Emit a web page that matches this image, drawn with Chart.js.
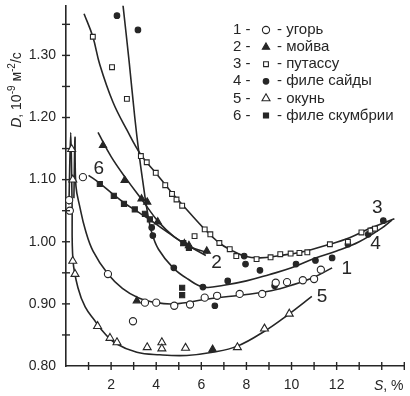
<!DOCTYPE html>
<html><head><meta charset="utf-8">
<script src="https://cdn.jsdelivr.net/npm/chart.js@4/dist/chart.umd.min.js"></script>
<style>html,body{margin:0;padding:0;background:#fff}canvas{display:block}</style>
</head><body>
<canvas id="c" width="410" height="396"></canvas>
<script>
// ---- data (S, %  ;  D, 10^-9 m^2/s) ----
const seriesNames = ['угорь', 'мойва', 'путассу', 'филе сайды', 'окунь', 'филе скумбрии'];
const seriesNumbers = ['1', '2', '3', '4', '5', '6'];

// measured points
const pts1 = [[0.14,1.067],[0.17,1.05],[0.75,1.104],[1.86,0.948],[2.97,0.872],[3.5,0.902],[4.0,0.902],[4.8,0.897],[5.5,0.899],[6.15,0.91],[6.7,0.913],[7.7,0.916],[8.7,0.916],[9.3,0.934],[9.8,0.935],[10.5,0.938],[11.0,0.94],[11.3,0.955]];
const pts2 = [[1.64,1.155],[2.6,1.099],[3.35,1.069],[3.6,1.064],[4.07,1.032],[5.25,0.997],[5.45,0.994],[6.24,0.985],[3.14,0.905],[6.5,0.827]];
const pts3 = [[1.19,1.330],[2.04,1.281],[2.7,1.23],[3.32,1.138],[3.58,1.128],[3.98,1.111],[4.4,1.091],[4.7,1.077],[4.9,1.068],[5.15,1.058],[5.7,1.009],[6.15,1.02],[6.4,1.012],[6.8,0.998],[7.26,0.988],[7.55,0.977],[8.45,0.972],[9.07,0.975],[9.5,0.98],[9.96,0.981],[10.35,0.982],[10.7,0.983],[11.7,0.996],[12.5,1.0],[13.1,1.015],[13.5,1.018],[13.7,1.021]];
const pts4 = [[2.26,1.364],[3.19,1.341],[3.8,1.023],[3.85,1.01],[4.78,0.958],[6.07,0.927],[6.6,0.897],[7.17,0.937],[7.9,0.977],[7.96,0.964],[8.6,0.954],[9.25,0.929],[10.2,0.964],[11.06,0.970],[11.8,0.974],[12.5,0.996],[13.4,1.012],[14.07,1.034]];
const pts5 = [[0.25,1.149],[0.3,1.10],[0.3,0.969],[0.4,0.948],[1.4,0.864],[1.95,0.845],[2.26,0.838],[3.6,0.830],[4.25,0.838],[4.25,0.828],[5.3,0.829],[7.6,0.830],[8.8,0.860],[9.9,0.884]];
const pts6 = [[1.5,1.093],[2.12,1.074],[2.57,1.061],[3.05,1.052],[3.5,1.045],[3.72,1.036],[5.2,0.998],[5.45,0.99],[5.15,0.926],[5.15,0.914]];

// fitted curves
const curve1 = [[0.35,1.07],[0.40,1.168],[0.44,1.09],[0.62,1.055],[0.85,1.02],[1.2,0.985],[1.86,0.948],[2.5,0.925],[3.2,0.91],[4.0,0.902],[4.8,0.900],[6.15,0.907],[7.0,0.911],[8.0,0.915],[9.1,0.921],[10.0,0.930],[11.0,0.943],[11.8,0.958]];
const curve2 = [[1.42,1.176],[2.0,1.137],[2.7,1.10],[3.4,1.066],[4.1,1.032],[4.8,1.008],[5.5,0.992],[6.3,0.982]];
const curve3 = [[0.8,1.367],[1.19,1.33],[1.5,1.285],[2.08,1.225],[2.7,1.18],[3.32,1.14],[4.0,1.11],[4.6,1.083],[5.2,1.058],[6.15,1.02],[6.8,0.998],[7.3,0.987],[7.9,0.977],[8.6,0.974],[9.5,0.978],[10.4,0.983],[11.7,0.996],[12.6,1.007],[13.5,1.022],[14.56,1.037]];
const curve4 = [[2.52,1.383],[2.8,1.29],[3.05,1.2],[3.23,1.144],[3.41,1.096],[3.6,1.05],[3.8,1.015],[4.1,0.988],[4.75,0.958],[5.4,0.940],[6.1,0.927],[7.0,0.930],[8.0,0.937],[9.0,0.947],[10.0,0.958],[11.0,0.973],[12.0,0.985],[13.0,1.0],[14.0,1.022],[14.45,1.035]];
const curve5 = [[0.13,1.06],[0.21,1.176],[0.27,1.06],[0.31,0.97],[0.53,0.926],[0.85,0.895],[1.28,0.873],[1.7,0.853],[2.17,0.837],[3.14,0.822],[4.16,0.818],[5.35,0.817],[6.5,0.822],[7.6,0.832],[8.8,0.856],[9.9,0.884],[10.9,0.912]];
const curve6 = [[1.0,1.107],[1.5,1.094],[2.1,1.076],[2.6,1.062],[3.1,1.05],[3.7,1.036],[4.4,1.018],[5.0,1.003],[5.6,0.99],[6.2,0.978]];

// curve number labels (data coords)
const curveLabelPos = [[12.45,0.956],[6.68,0.966],[13.8,1.054],[13.72,0.997],[11.35,0.911],[1.45,1.118]];

// axis
const xTickLabels = [2, 4, 6, 8, 10, 12];
const yTickLabels = [0.80, 0.90, 1.00, 1.10, 1.20, 1.30];

// ---- styling ----
const INK = '#262626';
const FONT = '"Liberation Sans", Arial, sans-serif';
const markerStyles = [
  {pointStyle:'circle', radius:3.6, fill:'#fff'},
  {pointStyle:'triangle', radius:4.2, fill:INK},
  {pointStyle:'rect', radius:3.4, fill:'#fff'},
  {pointStyle:'circle', radius:2.8, fill:INK},
  {pointStyle:'triangle', radius:4.6, fill:'#fff'},
  {pointStyle:'rect', radius:3.6, fill:INK}
];
const toXY = a => a.map(p => ({x:p[0], y:p[1]}));
const curves = [curve1, curve2, curve3, curve4, curve5, curve6];
const points = [pts1, pts2, pts3, pts4, pts5, pts6];

const datasets = [];
curves.forEach((c, i) => datasets.push({
  label: 'curve ' + seriesNumbers[i], data: toXY(c), showLine: true, pointRadius: 0,
  borderColor: INK, borderWidth: 1.6, tension: 0.4, fill: false, order: 2
}));
points.forEach((p, i) => datasets.push({
  label: seriesNames[i], data: toXY(p), showLine: false,
  pointStyle: markerStyles[i].pointStyle, pointRadius: markerStyles[i].radius,
  pointBackgroundColor: markerStyles[i].fill, pointBorderColor: INK, pointBorderWidth: 1.1, order: 1
}));

const decor = {
  id: 'decor',
  afterDraw(chart) {
    const ctx = chart.ctx, xs = chart.scales.x, ys = chart.scales.y;
    ctx.save();
    ctx.strokeStyle = INK; ctx.lineWidth = 1.4;
    // crossing tick marks
    for (let v = 1; v <= 15; v++) {
      const px = xs.getPixelForValue(v);
      ctx.beginPath(); ctx.moveTo(px, ys.bottom - 4); ctx.lineTo(px, ys.bottom + 4); ctx.stroke();
    }
    for (let k = 1; k <= 11; k++) {
      const v = 0.80 + k * 0.05;
      const py = ys.getPixelForValue(v);
      ctx.beginPath(); ctx.moveTo(xs.left - 4, py); ctx.lineTo(xs.left + 4, py); ctx.stroke();
    }
    ctx.fillStyle = INK;
    // x title
    ctx.textBaseline = 'middle'; ctx.textAlign = 'left';
    ctx.font = 'italic 14px ' + FONT; ctx.fillText('S', 374, 386);
    let w = ctx.measureText('S').width;
    ctx.font = '14px ' + FONT; ctx.fillText(', %', 374 + w, 386);
    // y title (rotated)
    const parts = [['D','italic 14px',0],[', 10','14px',0],['-9','10px',-5],[' м','14px',0],['-2','10px',-5],['/с','14px',0]];
    let total = 0;
    parts.forEach(p => { ctx.font = p[1] + ' ' + FONT; total += ctx.measureText(p[0]).width; });
    ctx.translate(17, 90); ctx.rotate(-Math.PI / 2);
    let cx = -total / 2;
    parts.forEach(p => { ctx.font = p[1] + ' ' + FONT; ctx.fillText(p[0], cx, p[2]); cx += ctx.measureText(p[0]).width; });
    ctx.setTransform(1, 0, 0, 1, 0, 0);
    // legend
    const lx = 233, ly0 = 30, dy = 17.1;
    ctx.font = '15px ' + FONT; ctx.textBaseline = 'middle';
    seriesNames.forEach((name, i) => {
      const y = ly0 + i * dy;
      ctx.fillStyle = INK;
      ctx.fillText(seriesNumbers[i] + ' -', lx, y);
      ctx.fillText('- ' + name, 277, y);
      const m = markerStyles[i];
      ctx.fillStyle = m.fill; ctx.strokeStyle = INK; ctx.lineWidth = 1.1;
      Chart.helpers.drawPoint(ctx, {pointStyle: m.pointStyle, radius: m.radius, rotation: 0, borderWidth: 1.1}, 266, y);
    });
    // curve number labels
    ctx.fillStyle = INK; ctx.font = '19px ' + FONT; ctx.textAlign = 'center';
    curveLabelPos.forEach((p, i) => ctx.fillText(seriesNumbers[i], xs.getPixelForValue(p[0]), ys.getPixelForValue(p[1])));
    ctx.restore();
  }
};

const zeroPad = s => { s.paddingTop = 0; s.paddingBottom = 0; s.paddingLeft = 0; s.paddingRight = 0; };

new Chart(document.getElementById('c'), {
  type: 'scatter',
  data: {datasets},
  options: {
    responsive: false, devicePixelRatio: 1, animation: false,
    layout: {padding: {top: 3, right: 5, left: 0, bottom: 0}},
    plugins: {legend: {display: false}, tooltip: {enabled: false}},
    scales: {
      x: {
        type: 'linear', min: 0, max: 15,
        afterFit: s => { s.height = 30; zeroPad(s); },
        grid: {display: true, drawOnChartArea: false, drawTicks: false},
        border: {display: true, color: INK, width: 1.6},
        ticks: {stepSize: 1, autoSkip: false, maxRotation: 0, padding: 11, color: INK,
          font: {family: FONT, size: 14},
          callback: v => xTickLabels.includes(v) ? String(v) : ''}
      },
      y: {
        type: 'linear', min: 0.80, max: 1.38,
        afterFit: s => { s.width = 66; zeroPad(s); },
        grid: {display: true, drawOnChartArea: false, drawTicks: false},
        border: {display: true, color: INK, width: 1.6},
        ticks: {stepSize: 0.05, autoSkip: false, padding: 10, color: INK,
          font: {family: FONT, size: 14},
          callback: v => yTickLabels.some(t => Math.abs(t - v) < 1e-6) ? v.toFixed(2) : ''}
      }
    }
  },
  plugins: [decor]
});
</script>
</body></html>
